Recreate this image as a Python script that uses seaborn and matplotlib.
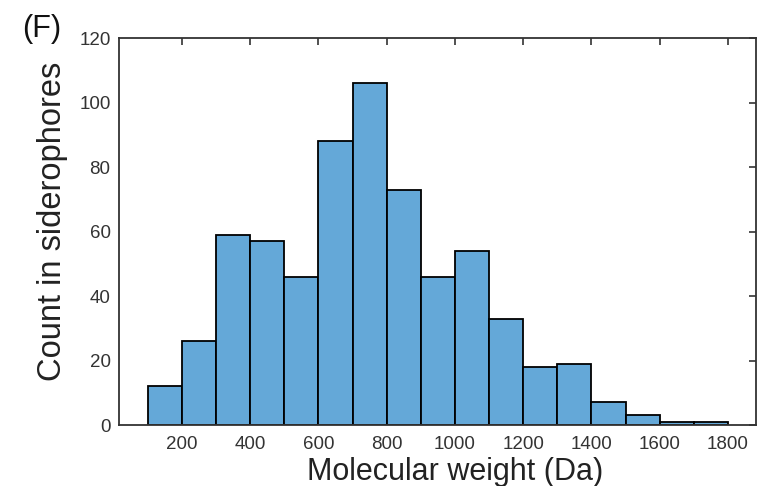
import numpy as np
import pandas as pd
import matplotlib
matplotlib.use('Agg')
import matplotlib.pyplot as plt
import seaborn as sns

# Histogram: 100 Da bins from 100 to 1800
bin_edges = list(range(100, 1900, 100))
bin_centers = [150, 250, 350, 450, 550, 650, 750, 850, 950, 1050,
               1150, 1250, 1350, 1450, 1550, 1650, 1750]
counts = [12, 26, 59, 57, 46, 88, 106, 73, 46, 54,
          33, 18, 19, 7, 3, 1, 1]
x_ticks = [200, 400, 600, 800, 1000, 1200, 1400, 1600, 1800]
y_ticks = [0, 20, 40, 60, 80, 100, 120]

df = pd.DataFrame({'mw': bin_centers, 'count': counts})

sns.set_style('white')
plt.rcParams['font.family'] = ['Liberation Sans', 'DejaVu Sans']

fig = plt.figure(figsize=(7.57, 4.86), dpi=100)
ax = fig.add_axes([0.157, 0.1255, 0.8415, 0.7963])

sns.histplot(data=df, x='mw', weights='count', bins=bin_edges,
             color='#64a8d8', alpha=1.0, edgecolor='black', linewidth=1.3,
             ax=ax)

ax.set_xlim(15, 1882)
ax.set_ylim(0, 120)
ax.set_xticks(x_ticks)
ax.set_yticks(y_ticks)
ax.tick_params(direction='in', length=5, width=1.2, colors='#333333',
               labelsize=13.5, top=True, right=True, labelcolor='#333333', pad=6)
ax.tick_params(axis='x', pad=8)
for s in ax.spines.values():
    s.set_color('#333333')
    s.set_linewidth(1.3)
    s.set_visible(True)

ax.set_xlabel('Molecular weight (Da)', fontsize=22, color='#222222')
ax.set_ylabel('Count in siderophores', fontsize=23.5, color='#222222')
ax.xaxis.set_label_coords(0.5275, -0.082)
ax.yaxis.set_label_coords(-0.08, 0.526)
fig.text(0.029, 0.924, '(F)', fontsize=22, color='#111111', va='baseline')

fig.savefig('out.png', dpi=100)
